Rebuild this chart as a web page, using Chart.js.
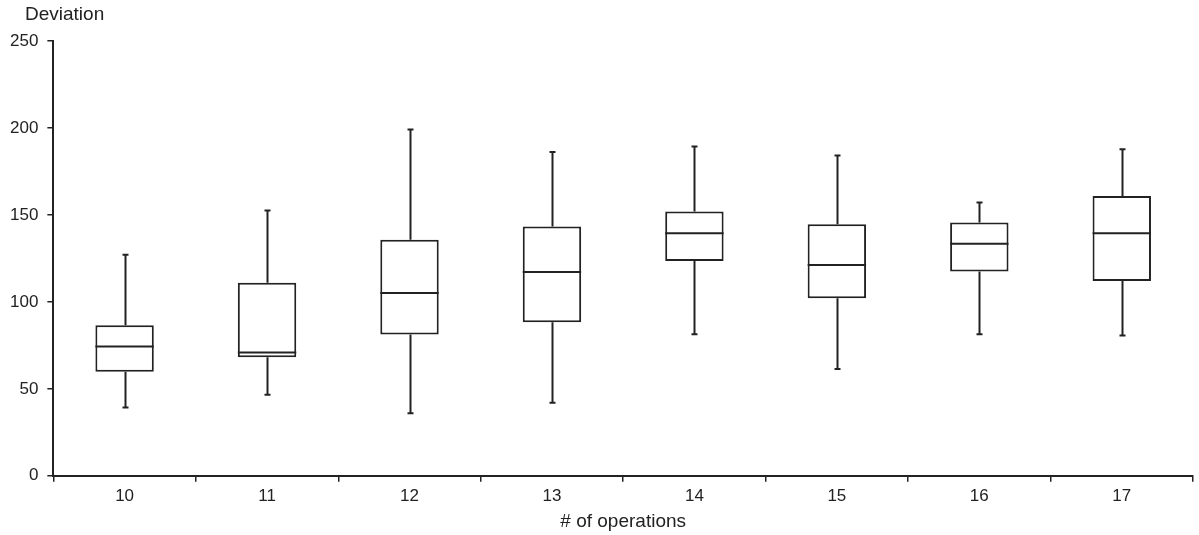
<!DOCTYPE html>
<html>
<head>
<meta charset="utf-8">
<script src="https://cdn.jsdelivr.net/npm/chart.js@4"></script>
<style>
  html, body { margin: 0; padding: 0; background: #fff; }
  #wrap { width: 1199px; height: 535px; position: relative; }
</style>
</head>
<body>
<div id="wrap"><canvas id="boxChart"></canvas></div>
<script>
// operations count on the x axis
const categories = ['10', '11', '12', '13', '14', '15', '16', '17'];

// box plot statistics per category
const whiskerLow  = [39.2, 46.6, 35.9, 42.0, 81.4, 61.4, 81.4, 80.7];
const quartile1   = [59.8, 68.2, 81.2, 88.3, 123.5, 102.1, 117.4, 112.0];
const medians     = [74.4, 70.9, 105.1, 117.2, 139.5, 121.2, 133.4, 139.5];
const quartile3   = [86.6, 111.0, 135.7, 143.3, 151.9, 144.7, 145.6, 160.9];
const whiskerHigh = [127.1, 152.5, 199.1, 186.2, 189.4, 184.1, 157.1, 187.7];

const yTicks = [0, 50, 100, 150, 200, 250];

const lineColor = '#222';
const textColor = '#222';
const fontFamily = 'Arial, "Liberation Sans", sans-serif';

// whiskers, caps and median lines, drawn on top of the boxes
const boxExtras = {
    id: 'boxExtras',
    afterDatasetsDraw(chart) {
        const ctx = chart.ctx;
        const y = chart.scales.y;
        const meta = chart.getDatasetMeta(0);
        ctx.save();
        ctx.strokeStyle = lineColor;
        ctx.lineWidth = 2;
        meta.data.forEach((bar, i) => {
            const x = Math.round(bar.x) + 0.5;
            const half = bar.width / 2;
            const capHalf = 3;
            const yMin = y.getPixelForValue(whiskerLow[i]);
            const yQ1 = y.getPixelForValue(quartile1[i]);
            const yMed = y.getPixelForValue(medians[i]);
            const yQ3 = y.getPixelForValue(quartile3[i]);
            const yMax = y.getPixelForValue(whiskerHigh[i]);

            ctx.beginPath();
            ctx.moveTo(x, yQ3); ctx.lineTo(x, yMax);
            ctx.moveTo(x - capHalf, yMax); ctx.lineTo(x + capHalf, yMax);
            ctx.moveTo(x, yQ1); ctx.lineTo(x, yMin);
            ctx.moveTo(x - capHalf, yMin); ctx.lineTo(x + capHalf, yMin);
            ctx.moveTo(bar.x - half, yMed); ctx.lineTo(bar.x + half, yMed);
            ctx.stroke();
        });
        ctx.restore();
    }
};

// horizontal y axis caption above the plot
const yCaption = {
    id: 'yCaption',
    afterDraw(chart) {
        const ctx = chart.ctx;
        ctx.save();
        ctx.fillStyle = textColor;
        ctx.font = '19px ' + fontFamily;
        ctx.textBaseline = 'middle';
        ctx.textAlign = 'left';
        ctx.fillText('Deviation', 25, 15);
        ctx.restore();
    }
};

new Chart(document.getElementById('boxChart'), {
    type: 'bar',
    data: {
        labels: categories,
        datasets: [{
            label: 'Deviation',
            data: quartile1.map((q, i) => [q, quartile3[i]]),
            backgroundColor: '#ffffff',
            borderColor: lineColor,
            borderWidth: 2,
            borderSkipped: false,
            barPercentage: 0.41,
            categoryPercentage: 1.0
        }]
    },
    options: {
        responsive: true,
        maintainAspectRatio: false,
        animation: false,
        layout: { padding: { top: 41, right: 6, left: 1, bottom: 2 } },
        plugins: {
            legend: { display: false },
            tooltip: { enabled: false }
        },
        scales: {
            x: {
                grid: {
                    display: true,
                    offset: true,
                    drawOnChartArea: false,
                    drawTicks: true,
                    tickLength: 6,
                    color: lineColor,
                    lineWidth: 1.5
                },
                border: { display: true, color: lineColor, width: 2 },
                ticks: {
                    color: textColor,
                    font: { family: fontFamily, size: 17 },
                    padding: 4,
                    maxRotation: 0
                },
                title: {
                    display: true,
                    text: '# of operations',
                    color: textColor,
                    font: { family: fontFamily, size: 19 },
                    padding: { top: 0, bottom: 0 }
                }
            },
            y: {
                min: 0,
                max: 250,
                afterBuildTicks(axis) {
                    axis.ticks = yTicks.map(v => ({ value: v }));
                },
                grid: {
                    display: true,
                    drawOnChartArea: false,
                    drawTicks: true,
                    tickLength: 6,
                    color: lineColor,
                    lineWidth: 1.5
                },
                border: { display: true, color: lineColor, width: 2 },
                ticks: {
                    color: textColor,
                    font: { family: fontFamily, size: 17 },
                    padding: 9
                }
            }
        }
    },
    plugins: [boxExtras, yCaption]
});
</script>
</body>
</html>
